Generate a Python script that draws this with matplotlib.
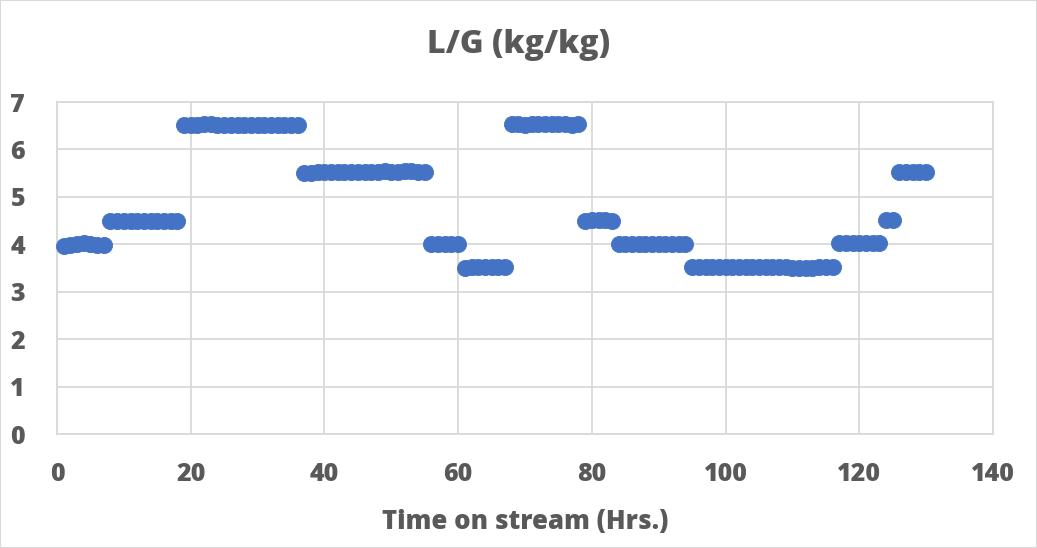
"""L/G ratio over time on stream, one reading per hour."""
import matplotlib.pyplot as plt
from matplotlib.patches import Rectangle

TEXT = "#595959"
GRID = "#D9D9D9"
BLUE = "#4472C4"

# hourly L/G readings (kg/kg), grouped by operating condition
lg_a = [3.97, 3.98, 4.00, 4.02, 4.00, 3.98, 3.98]
lg_b = [4.50, 4.50, 4.50, 4.50, 4.50, 4.50, 4.50, 4.50, 4.50, 4.50, 4.50]
lg_c = [6.51, 6.51, 6.52, 6.53, 6.53, 6.52, 6.52, 6.52, 6.52, 6.52, 6.52,
        6.52, 6.52, 6.52, 6.52, 6.52, 6.52, 6.52]
lg_d = [5.50, 5.51, 5.52, 5.52, 5.52, 5.52, 5.52, 5.52, 5.52, 5.52, 5.52,
        5.53, 5.54, 5.53, 5.52, 5.54, 5.54, 5.53, 5.53]
lg_e = [4.00, 4.00, 4.00, 4.00, 4.00]
lg_f = [3.50, 3.52, 3.52, 3.52, 3.52, 3.52, 3.53]
lg_g = [6.53, 6.53, 6.51, 6.53, 6.53, 6.53, 6.53, 6.53, 6.53, 6.52, 6.53]
lg_h = [4.50, 4.51, 4.51, 4.51, 4.50]
lg_i = [4.01, 4.01, 4.01, 4.01, 4.01, 4.01, 4.01, 4.01, 4.01, 4.01, 4.00]
lg_j = [3.52, 3.52, 3.52, 3.52, 3.52, 3.52, 3.52, 3.52, 3.52, 3.52, 3.52,
        3.52, 3.52, 3.52, 3.52, 3.51, 3.50, 3.50, 3.51, 3.52, 3.52, 3.52]
lg_k = [4.02, 4.02, 4.02, 4.02, 4.02, 4.02, 4.02]
lg_l = [4.52, 4.52]
lg_m = [5.52, 5.52, 5.52, 5.52, 5.52]

lg = lg_a + lg_b + lg_c + lg_d + lg_e + lg_f + lg_g + lg_h + lg_i + lg_j + lg_k + lg_l + lg_m
hours = list(range(1, len(lg) + 1))

x_ticks = [0, 20, 40, 60, 80, 100, 120, 140]
y_ticks = [0, 1, 2, 3, 4, 5, 6, 7]

WEIGHT = "heavy"
plt.rcParams["font.family"] = ["Open Sans", "DejaVu Sans"]
plt.rcParams["font.weight"] = WEIGHT

fig = plt.figure(figsize=(10.37, 5.48), dpi=100)
ax = fig.add_axes([57 / 1037, 114 / 548, 936 / 1037, 332 / 548])

ax.scatter(hours, lg, s=135, color=BLUE, edgecolors=BLUE, linewidths=0.6,
           zorder=3, clip_on=False)

ax.set_xlim(0, 140)
ax.set_ylim(0, 7)
ax.set_xticks(x_ticks)
ax.set_yticks(y_ticks)
ax.grid(True, color=GRID, linewidth=1.3, zorder=0)
ax.set_axisbelow(True)
for side in ax.spines.values():
    side.set_color(GRID)
    side.set_linewidth(1.3)
ax.tick_params(length=0, labelsize=18, colors=TEXT)
ax.tick_params(axis="x", pad=20)
ax.tick_params(axis="y", pad=23)
for lbl in ax.get_xticklabels() + ax.get_yticklabels():
    lbl.set_fontweight(WEIGHT)

ax.set_xlabel("Time on stream (Hrs.)", fontsize=18.5, fontweight=WEIGHT,
              color=TEXT, labelpad=16)
fig.text(0.5, 0.917, "L/G (kg/kg)", ha="center", va="center",
         fontsize=23, fontweight=WEIGHT, color=TEXT)

# chart-area border
fig.patches.append(Rectangle((0, 0), 1, 1, transform=fig.transFigure,
                             fill=False, edgecolor=GRID, linewidth=1.5))

fig.savefig("out.png", dpi=100)
